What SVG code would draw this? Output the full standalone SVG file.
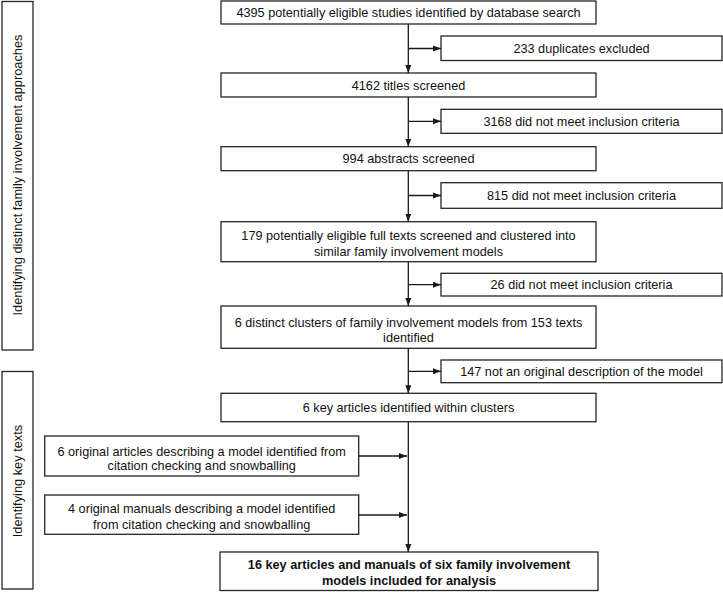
<svg xmlns="http://www.w3.org/2000/svg" width="723" height="592" viewBox="0 0 723 592">
<style>
.box{fill:#fff;stroke:#262626;stroke-width:1.3}
.t{font-family:"Liberation Sans",Arial,sans-serif;font-size:12.7px;fill:#111;text-anchor:middle}
.b{font-weight:bold}
.side{font-family:"Liberation Sans",Arial,sans-serif;font-size:12.8px;fill:#111;text-anchor:middle}
.ln{fill:none;stroke:#1a1a1a;stroke-width:1.3}
</style>
<defs>
<marker id="ah" markerUnits="userSpaceOnUse" markerWidth="8" markerHeight="8" viewBox="0 0 8 8" refX="8" refY="4" orient="auto">
<path d="M0,1 L8,4 L0,7 Z" fill="#1a1a1a"/>
</marker>
</defs>
<g id="side1"><rect class="box" x="2" y="1.5" width="31" height="348.5"/><text class="side" transform="translate(22,175) rotate(-90)">Identifying distinct family involvement approaches</text></g>
<g id="side2"><rect class="box" x="2" y="371.5" width="31" height="217.5"/><text class="side" transform="translate(22,481) rotate(-90)">Identifying key texts</text></g>
<g id="n1"><rect class="box" x="221" y="1" width="375" height="23"/><text class="t" x="408.5" y="17">4395 potentially eligible studies identified by database search</text></g>
<g id="x1"><rect class="box" x="441" y="36" width="281" height="24.5"/><text class="t" x="581.5" y="52.5">233 duplicates excluded</text></g>
<g id="n2"><rect class="box" x="221" y="73" width="375" height="24"/><text class="t" x="408.5" y="89.5">4162 titles screened</text></g>
<g id="x2"><rect class="box" x="441" y="109.3" width="281" height="24"/><text class="t" x="581.5" y="125.8">3168 did not meet inclusion criteria</text></g>
<g id="n3"><rect class="box" x="221" y="146.7" width="375" height="24"/><text class="t" x="408.5" y="163.2">994 abstracts screened</text></g>
<g id="x3"><rect class="box" x="441" y="182.7" width="281" height="25.6"/><text class="t" x="581.5" y="200">815 did not meet inclusion criteria</text></g>
<g id="n4"><rect class="box" x="221" y="221.7" width="375" height="40"/><text class="t" x="408.5" y="239.5">179 potentially eligible full texts screened and clustered into</text><text class="t" x="408.5" y="255.5">similar family involvement models</text></g>
<g id="x4"><rect class="box" x="441" y="273.3" width="281" height="22.7"/><text class="t" x="581.5" y="289.2">26 did not meet inclusion criteria</text></g>
<g id="n5"><rect class="box" x="221" y="306" width="375" height="42.3"/><text class="t" x="408.5" y="327">6 distinct clusters of family involvement models from 153 texts</text><text class="t" x="408.5" y="342">identified</text></g>
<g id="x5"><rect class="box" x="441" y="360" width="281" height="22.7"/><text class="t" x="581.5" y="375.8">147 not an original description of the model</text></g>
<g id="n6"><rect class="box" x="221" y="393.3" width="375" height="28.4"/><text class="t" x="408.5" y="412">6 key articles identified within clusters</text></g>
<g id="s1"><rect class="box" x="44.7" y="436" width="314" height="40"/><text class="t" x="201.7" y="455.5">6 original articles describing a model identified from</text><text class="t" x="201.7" y="470">citation checking and snowballing</text></g>
<g id="s2"><rect class="box" x="44.7" y="495" width="314" height="39.3"/><text class="t" x="201.7" y="512.5">4 original manuals describing a model identified</text><text class="t" x="201.7" y="529">from citation checking and snowballing</text></g>
<g id="n7"><rect class="box" x="220" y="552" width="378" height="38.5"/><text class="t b" x="409" y="568.5">16 key articles and manuals of six family involvement</text><text class="t b" x="409" y="584.5">models included for analysis</text></g>
<g id="connectors">
<line class="ln" x1="408.3" y1="24" x2="408.3" y2="73" marker-end="url(#ah)"/>
<line class="ln" x1="408.3" y1="48.5" x2="441" y2="48.5" marker-end="url(#ah)"/>
<line class="ln" x1="408.3" y1="97" x2="408.3" y2="146.7" marker-end="url(#ah)"/>
<line class="ln" x1="408.3" y1="121.3" x2="441" y2="121.3" marker-end="url(#ah)"/>
<line class="ln" x1="408.3" y1="170.7" x2="408.3" y2="221.7" marker-end="url(#ah)"/>
<line class="ln" x1="408.3" y1="195.5" x2="441" y2="195.5" marker-end="url(#ah)"/>
<line class="ln" x1="408.3" y1="261.7" x2="408.3" y2="306" marker-end="url(#ah)"/>
<line class="ln" x1="408.3" y1="284.7" x2="441" y2="284.7" marker-end="url(#ah)"/>
<line class="ln" x1="408.3" y1="348.3" x2="408.3" y2="393.3" marker-end="url(#ah)"/>
<line class="ln" x1="408.3" y1="371.3" x2="441" y2="371.3" marker-end="url(#ah)"/>
<line class="ln" x1="408.3" y1="421.7" x2="408.3" y2="552" marker-end="url(#ah)"/>
<line class="ln" x1="358.7" y1="456" x2="407" y2="456" marker-end="url(#ah)"/>
<line class="ln" x1="358.7" y1="515" x2="407" y2="515" marker-end="url(#ah)"/>
</g>
</svg>
